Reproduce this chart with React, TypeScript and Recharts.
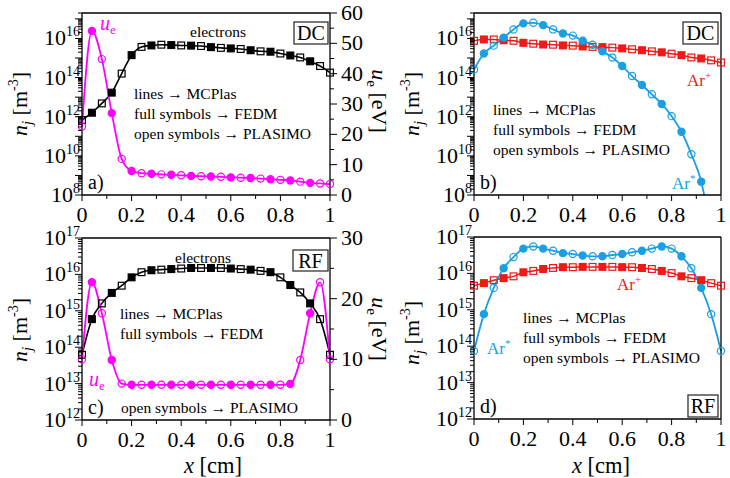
import React from 'react';
import { LineChart, Line, XAxis, YAxis } from 'recharts';

const FONT = '"Liberation Serif", "Times New Roman", Times, serif';
const W = 730;
const H = 478;

const MAGENTA = '#ff00ff';
const BLUE = '#1a9fe3';
const RED = '#f01818';

// positions across the gap [cm]
const xCm = [
  0, 0.04, 0.08, 0.12, 0.16, 0.2, 0.24, 0.28, 0.32, 0.36, 0.4, 0.44, 0.48,
  0.52, 0.56, 0.6, 0.64, 0.68, 0.72, 0.76, 0.8, 0.84, 0.88, 0.92, 0.96, 1.0,
];

// DC discharge
const dcElectrons = [
  6.8e11, 1.6e12, 4.8e12, 1.7e13, 1.6e14, 1.4e15, 3.7e15, 4.4e15, 4.8e15,
  4.6e15, 4.4e15, 4.3e15, 4.1e15, 3.6e15, 3.3e15, 3.1e15, 2.9e15, 2.5e15,
  2.2e15, 2.1e15, 1.7e15, 1.35e15, 1.07e15, 6.8e14, 3.9e14, 1.8e14,
];
const dcEnergy = [
  22.6, 54.1, 44.8, 27.0, 11.9, 7.9, 7.2, 7.0, 6.8, 6.7, 6.5, 6.3, 6.2, 6.1,
  6.0, 5.8, 5.7, 5.6, 5.4, 5.2, 5.0, 4.8, 4.4, 4.0, 3.8, 3.6,
];
const dcArIon = [
  7.6e15, 8.9e15, 8.9e15, 8.1e15, 7.6e15, 6.0e15, 5.4e15, 4.9e15, 4.8e15,
  4.4e15, 4.3e15, 3.9e15, 3.7e15, 3.6e15, 3.4e15, 3.1e15, 2.8e15, 2.5e15,
  2.2e15, 1.95e15, 1.66e15, 1.4e15, 1.07e15, 9.5e14, 7.6e14, 5.9e14,
];
// metastables fall below 1e8 m^-3 just after x = 0.93 cm
const dcArStarX = [...xCm.slice(0, 24), 0.932];
const dcArStar = [
  2.6e14, 1.7e15, 4.3e15, 1.1e16, 2.9e16, 5.9e16, 6.3e16, 4.8e16, 2.9e16,
  1.8e16, 1.4e16, 7.6e15, 4.8e15, 2.2e15, 1.07e15, 3.9e14, 1.2e14, 4.2e13,
  1.4e13, 4.5e12, 1.07e12, 1.7e11, 1.2e10, 4.8e8, 1e8,
];

// RF discharge
const rfElectrons = [
  6.2e13, 5.9e14, 1.6e15, 3.1e15, 4.9e15, 8.3e15, 1.15e16, 1.3e16, 1.35e16,
  1.4e16, 1.45e16, 1.5e16, 1.5e16, 1.5e16, 1.5e16, 1.45e16, 1.4e16, 1.35e16,
  1.25e16, 1.15e16, 8.3e15, 5.1e15, 3.2e15, 1.6e15, 5.9e14, 6.2e13,
];
const rfEnergy = [
  10.0, 22.7, 17.6, 9.9, 6.0, 5.8, 5.8, 5.8, 5.8, 5.8, 5.8, 5.8, 5.8, 5.8,
  5.8, 5.8, 5.8, 5.8, 5.8, 5.8, 5.8, 5.95, 9.9, 17.6, 22.7, 10.0,
];
const rfArIon = [
  4.6e15, 5.4e15, 6.5e15, 7.4e15, 8.3e15, 1.07e16, 1.17e16, 1.32e16, 1.41e16,
  1.48e16, 1.48e16, 1.51e16, 1.51e16, 1.51e16, 1.51e16, 1.48e16, 1.48e16,
  1.41e16, 1.32e16, 1.17e16, 1.02e16, 8.3e15, 7.4e15, 6.5e15, 5.4e15, 4.6e15,
];
const rfArStar = [
  7.4e13, 7.6e14, 4.0e15, 1.38e16, 2.8e16, 4.8e16, 5.5e16, 4.8e16, 4.2e16,
  3.6e16, 3.4e16, 3.1e16, 2.95e16, 2.95e16, 3.2e16, 3.4e16, 3.8e16, 4.2e16,
  4.8e16, 5.5e16, 4.8e16, 2.95e16, 1.38e16, 4.0e15, 7.6e14, 7.4e13,
];

// axis ticks
const xTicks = [0, 0.1, 0.2, 0.3, 0.4, 0.5, 0.6, 0.7, 0.8, 0.9, 1];
const xTickLabels = ['0', '0.2', '0.4', '0.6', '0.8', '1'];
const dcDecades = [8, 9, 10, 11, 12, 13, 14, 15, 16, 17];
const dcDecadeLabels = [8, 10, 12, 14, 16];
const rfDecades = [12, 13, 14, 15, 16, 17];
const rfDecadeLabels = [12, 13, 14, 15, 16, 17];
const dcEnergyTicks = [0, 5, 10, 15, 20, 25, 30, 35, 40, 45, 50, 55, 60];
const rfEnergyTicks = [0, 5, 10, 15, 20, 25, 30];

const logTicks = (decades: number[], top: number) => {
  const out: number[] = [];
  decades.forEach((d) => {
    for (let m = 1; m <= 9; m++) {
      const v = m * Math.pow(10, d);
      if (v <= top * 1.0001) out.push(v);
    }
  });
  return out;
};

const rows = (xs: number[], ys: number[]) => xs.map((x, i) => ({ x, v: ys[i] }));

const AXIS = { stroke: '#000', strokeWidth: 1.3 };

const LogTick = (p: any, labelled: number[]) => {
  const { x, y, payload, index } = p;
  const lg = Math.log10(payload.value);
  const exp = Math.round(lg);
  const major = Math.abs(lg - exp) < 1e-6;
  const len = major ? 7 : 4;
  return (
    <g key={`lt-${index}`}>
      <line x1={x} x2={x - len} y1={y} y2={y} stroke="#000" strokeWidth={1} />
      {major && labelled.includes(exp) && (
        <text x={x - 2} y={y + 7} textAnchor="end" fontSize={22} fontFamily={FONT} fill="#000">
          10
          <tspan dy={-9} fontSize={14}>{exp}</tspan>
        </text>
      )}
    </g>
  );
};

const EnergyTick = (p: any) => {
  const { x, y, payload, index } = p;
  const major = payload.value % 10 === 0;
  const len = major ? 7 : 4;
  return (
    <g key={`et-${index}`}>
      <line x1={x} x2={x + len} y1={y} y2={y} stroke="#000" strokeWidth={1} />
      {major && (
        <text x={x + 11} y={y + 7} textAnchor="start" fontSize={22} fontFamily={FONT} fill="#000">
          {payload.value}
        </text>
      )}
    </g>
  );
};

const XTick = (p: any, dir: number, labels: boolean) => {
  const { x, y, payload, index } = p;
  const v = payload.value;
  const major = Math.abs(v * 5 - Math.round(v * 5)) < 1e-6;
  const len = major ? 6 : 4;
  return (
    <g key={`xt-${index}`}>
      <line x1={x} x2={x} y1={y} y2={y + dir * len} stroke="#000" strokeWidth={1} />
      {labels && major && (
        <text x={x} y={y + 27} textAnchor="middle" fontSize={22} fontFamily={FONT} fill="#000">
          {xTickLabels[Math.round(v * 5)]}
        </text>
      )}
    </g>
  );
};

// full symbols at odd sample indices, open symbols at the others
const marker = (shape: 'square' | 'circle', color: string, count: number) => (p: any) => {
  const { cx, cy, index } = p;
  if (cx == null || cy == null || index >= count) return <g key={`m-${index}`} />;
  const full = index % 2 === 1 && index < 25;
  if (shape === 'square') {
    return (
      <rect
        key={`m-${index}`}
        x={cx - 3.4}
        y={cy - 3.4}
        width={6.8}
        height={6.8}
        fill={full ? color : 'none'}
        stroke={color}
        strokeWidth={1.2}
      />
    );
  }
  return (
    <circle
      key={`m-${index}`}
      cx={cx}
      cy={cy}
      r={3.6}
      fill={full ? color : 'none'}
      stroke={color}
      strokeWidth={1.2}
    />
  );
};

type Series = {
  key: string;
  xs: number[];
  ys: number[];
  axis: 'n' | 'u';
  color: string;
  shape: 'square' | 'circle';
  width: number;
  markers: number;
};

type PanelProps = {
  box: { left: number; right: number; top: number; bottom: number };
  decades: number[];
  labelled: number[];
  nDomain: [number, number];
  energyTicks?: number[];
  topTicks: boolean;
  series: Series[];
};

function Panel({ box, decades, labelled, nDomain, energyTicks, topTicks, series }: PanelProps) {
  // each axis takes one pixel of room outside the plot frame
  const margin = {
    left: box.left - 1,
    top: box.top - 1,
    right: W - box.right - 1,
    bottom: H - box.bottom - 1,
  };
  const nTicks = logTicks(decades, nDomain[1]);
  return (
    <div style={{ position: 'absolute', left: 0, top: 0, width: W, height: H }}>
      <LineChart width={W} height={H} margin={margin}>
        <XAxis
          xAxisId="b"
          type="number"
          dataKey="x"
          domain={[0, 1]}
          ticks={xTicks}
          interval={0}
          height={1}
          tickSize={0}
          tickMargin={0}
          tickLine={false}
          axisLine={AXIS}
          tick={(p: any) => XTick(p, 1, true)}
        />
        <XAxis
          xAxisId="t"
          orientation="top"
          type="number"
          dataKey="x"
          domain={[0, 1]}
          ticks={xTicks}
          interval={0}
          height={1}
          tickSize={0}
          tickMargin={0}
          tickLine={false}
          axisLine={AXIS}
          tick={topTicks ? (p: any) => XTick(p, -1, false) : false}
        />
        <YAxis
          yAxisId="n"
          type="number"
          scale="log"
          domain={nDomain}
          ticks={nTicks}
          interval={0}
          width={1}
          tickSize={0}
          tickMargin={0}
          tickLine={false}
          axisLine={AXIS}
          tick={(p: any) => LogTick(p, labelled)}
        />
        {energyTicks ? (
          <YAxis
            yAxisId="u"
            orientation="right"
            type="number"
            domain={[0, energyTicks[energyTicks.length - 1]]}
            ticks={energyTicks}
            interval={0}
            width={1}
            tickSize={0}
            tickMargin={0}
            tickLine={false}
            axisLine={AXIS}
            tick={EnergyTick}
          />
        ) : (
          <YAxis
            yAxisId="u"
            orientation="right"
            type="number"
            domain={[0, 1]}
            ticks={[0, 1]}
            width={1}
            tickSize={0}
            tickLine={false}
            tick={false}
            axisLine={AXIS}
          />
        )}
        {series.map((s) => (
          <Line
            key={s.key}
            data={rows(s.xs, s.ys)}
            dataKey="v"
            xAxisId="b"
            yAxisId={s.axis}
            type="monotone"
            stroke={s.color}
            strokeWidth={s.width}
            dot={marker(s.shape, s.color, s.markers)}
            activeDot={false}
            isAnimationActive={false}
          />
        ))}
      </LineChart>
    </div>
  );
}

const txt = { fontFamily: FONT, fill: '#000' } as const;

const Legend = ({ x, y, rows: r }: { x: number; y: number; rows: string[] }) => (
  <g>
    {r.map((t, i) => (
      <text key={t} x={x} y={y + i * 20} fontSize={15.5} {...txt}>
        {t}
      </text>
    ))}
  </g>
);

const Tag = ({ x, y, w, h, label }: { x: number; y: number; w: number; h: number; label: string }) => (
  <g>
    <rect x={x} y={y} width={w} height={h} fill="#fff" stroke="#333" strokeWidth={1.3} />
    <text x={x + w / 2} y={y + h / 2 + 7} textAnchor="middle" fontSize={20} {...txt}>
      {label}
    </text>
  </g>
);

const DensityTitle = ({ x, y }: { x: number; y: number }) => (
  <text transform={`translate(${x},${y}) rotate(-90)`} textAnchor="middle" fontSize={22} {...txt}>
    <tspan fontStyle="italic">n</tspan>
    <tspan fontStyle="italic" fontSize={15} dy={5}>j</tspan>
    <tspan dy={-5}> [m</tspan>
    <tspan fontSize={14} dy={-9}>-3</tspan>
    <tspan dy={9}>]</tspan>
  </text>
);

const EnergyTitle = ({ x, y }: { x: number; y: number }) => (
  <text transform={`translate(${x},${y}) rotate(90)`} textAnchor="middle" fontSize={22} {...txt}>
    <tspan fontStyle="italic">u</tspan>
    <tspan fontSize={15} dy={5}>e</tspan>
    <tspan dy={-5}> [eV]</tspan>
  </text>
);

const XTitle = ({ x, y }: { x: number; y: number }) => (
  <text x={x} y={y} textAnchor="middle" fontSize={22.5} {...txt}>
    <tspan fontStyle="italic">x</tspan> [cm]
  </text>
);

const legendRows = ['lines \u2192 MCPlas', 'full symbols \u2192 FEDM', 'open symbols \u2192 PLASIMO'];

export default function App() {
  return (
    <div style={{ position: 'absolute', left: 0, top: 0, width: W, height: H, background: '#fff', overflow: 'hidden' }}>
      <Panel
        box={{ left: 82, right: 330, top: 13, bottom: 195 }}
        decades={dcDecades}
        labelled={dcDecadeLabels}
        nDomain={[1e8, 2e17]}
        energyTicks={dcEnergyTicks}
        topTicks={false}
        series={[
          { key: 'ne', xs: xCm, ys: dcElectrons, axis: 'n', color: '#000', shape: 'square', width: 1.6, markers: 26 },
          { key: 'ue', xs: xCm, ys: dcEnergy, axis: 'u', color: MAGENTA, shape: 'circle', width: 1.8, markers: 26 },
        ]}
      />
      <Panel
        box={{ left: 474, right: 721, top: 13, bottom: 195 }}
        decades={dcDecades}
        labelled={dcDecadeLabels}
        nDomain={[1e8, 2e17]}
        topTicks={false}
        series={[
          { key: 'ion', xs: xCm, ys: dcArIon, axis: 'n', color: RED, shape: 'square', width: 1.5, markers: 26 },
          { key: 'star', xs: dcArStarX, ys: dcArStar, axis: 'n', color: BLUE, shape: 'circle', width: 1.8, markers: 24 },
        ]}
      />
      <Panel
        box={{ left: 82, right: 330, top: 238, bottom: 420 }}
        decades={rfDecades}
        labelled={rfDecadeLabels}
        nDomain={[1e12, 1e17]}
        energyTicks={rfEnergyTicks}
        topTicks={true}
        series={[
          { key: 'ne', xs: xCm, ys: rfElectrons, axis: 'n', color: '#000', shape: 'square', width: 1.6, markers: 26 },
          { key: 'ue', xs: xCm, ys: rfEnergy, axis: 'u', color: MAGENTA, shape: 'circle', width: 1.8, markers: 26 },
        ]}
      />
      <Panel
        box={{ left: 474, right: 721, top: 237, bottom: 419 }}
        decades={rfDecades}
        labelled={rfDecadeLabels}
        nDomain={[1e12, 1e17]}
        topTicks={true}
        series={[
          { key: 'ion', xs: xCm, ys: rfArIon, axis: 'n', color: RED, shape: 'square', width: 1.5, markers: 26 },
          { key: 'star', xs: xCm, ys: rfArStar, axis: 'n', color: BLUE, shape: 'circle', width: 1.8, markers: 26 },
        ]}
      />
      <svg width={W} height={H} style={{ position: 'absolute', left: 0, top: 0, pointerEvents: 'none' }}>
        {/* panel a */}
        <text x={218} y={37} textAnchor="middle" fontSize={15.5} {...txt}>electrons</text>
        <Tag x={294} y={22} w={34} h={22} label="DC" />
        <text x={100} y={30} fontSize={20} fontFamily={FONT} fill={MAGENTA}>
          <tspan fontStyle="italic">u</tspan>
          <tspan fontSize={13} dy={4}>e</tspan>
        </text>
        <Legend x={134} y={99} rows={legendRows} />
        <text x={88} y={189} fontSize={20} {...txt}>a)</text>
        <DensityTitle x={27} y={104} />
        <EnergyTitle x={372} y={101} />

        {/* panel b */}
        <Tag x={683} y={22} w={35} h={22} label="DC" />
        <text x={687} y={86} fontSize={17} fontFamily={FONT} fill={RED}>
          Ar<tspan fontSize={11} dy={-7}>+</tspan>
        </text>
        <text x={672} y={189} fontSize={17} fontFamily={FONT} fill={BLUE}>
          Ar<tspan fontSize={11} dy={-7}>*</tspan>
        </text>
        <Legend x={493} y={115} rows={legendRows} />
        <text x={480} y={189} fontSize={20} {...txt}>b)</text>
        <DensityTitle x={419} y={104} />

        {/* panel c */}
        <text x={203} y={263} textAnchor="middle" fontSize={15.5} {...txt}>electrons</text>
        <Tag x={293} y={250} w={35} h={21} label="RF" />
        <text x={89} y={386} fontSize={20} fontFamily={FONT} fill={MAGENTA}>
          <tspan fontStyle="italic">u</tspan>
          <tspan fontSize={13} dy={4}>e</tspan>
        </text>
        <Legend x={120} y={319} rows={legendRows.slice(0, 2)} />
        <text x={121} y={413} fontSize={15.5} {...txt}>{legendRows[2]}</text>
        <text x={88} y={414} fontSize={20} {...txt}>c)</text>
        <DensityTitle x={27} y={330} />
        <EnergyTitle x={372} y={329} />
        <XTitle x={213} y={473} />

        {/* panel d */}
        <text x={617} y={290} fontSize={17} fontFamily={FONT} fill={RED}>
          Ar<tspan fontSize={11} dy={-7}>+</tspan>
        </text>
        <text x={487} y={354} fontSize={17} fontFamily={FONT} fill={BLUE}>
          Ar<tspan fontSize={11} dy={-7}>*</tspan>
        </text>
        <Legend x={523} y={323} rows={legendRows} />
        <text x={480} y={413} fontSize={20} {...txt}>d)</text>
        <Tag x={688} y={395} w={30} h={22} label="RF" />
        <DensityTitle x={419} y={333} />
        <XTitle x={601} y={473} />
      </svg>
    </div>
  );
}
